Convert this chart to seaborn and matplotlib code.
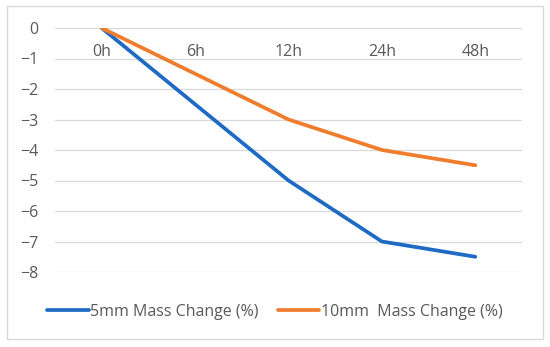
import matplotlib
matplotlib.use("Agg")
import matplotlib.pyplot as plt
import seaborn as sns
import pandas as pd
from matplotlib.patches import Rectangle
from matplotlib.lines import Line2D

categories = ["0h", "6h", "12h", "24h", "48h"]
mass_5mm = [0, -2.5, -5, -7, -7.5]
mass_10mm = [0, -1.5, -3, -4, -4.5]
series_names = ["5mm Mass Change (%)", "10mm  Mass Change (%)"]
yticks = [0, -1, -2, -3, -4, -5, -6, -7, -8]

sns.set_style("white")
plt.rcParams["font.family"] = ["Open Sans", "DejaVu Sans"]

df = pd.DataFrame({
    "time": categories * 2,
    "x": list(range(len(categories))) * 2,
    "value": mass_5mm + mass_10mm,
    "series": [series_names[0]] * len(categories) + [series_names[1]] * len(categories),
})

fig = plt.figure(figsize=(5.5, 3.47), dpi=100)
ax = fig.add_axes([55 / 550, 1 - 272 / 347, 467 / 550, (272 - 28) / 347])

palette = {series_names[0]: "#1F6BC4", series_names[1]: "#F07D2E"}
sns.lineplot(data=df, x="x", y="value", hue="series", palette=palette,
             linewidth=2.7, ax=ax, legend=False, sort=False)

ax.set_xlim(-0.5, len(categories) - 0.5)
ax.set_ylim(-8, 0)
ax.set_yticks(yticks)
ax.set_yticklabels(["0"] + [f"\u2212{abs(v)}" for v in yticks[1:]], color="#595959", fontsize=11.5)
ax.tick_params(axis="y", length=0, pad=12)
ax.set_xticks([])
for sp in ax.spines.values():
    sp.set_visible(False)
for v in yticks:
    ax.axhline(v, color="#D9D9D9", linewidth=0.9, zorder=0)
for i, c in enumerate(categories):
    ax.text(i, -0.78, c, ha="center", va="center", color="#595959", fontsize=11.5)
ax.set_xlabel("")
ax.set_ylabel("")

handles = [Line2D([0], [0], color=palette[s], linewidth=2.7) for s in series_names]
fig.legend(handles, series_names, loc="center", bbox_to_anchor=(0.5, 1 - 312 / 347),
           ncol=2, frameon=False, fontsize=11.5, labelcolor="#595959",
           handlelength=2.6, handletextpad=0.1, columnspacing=1.2)

fig.patches.append(Rectangle((7 / 550, 1 - 339 / 347), 536 / 550, 333 / 347,
                             transform=fig.transFigure, fill=False,
                             edgecolor="#D9D9D9", linewidth=1.0))

fig.savefig("out.png", dpi=100)
